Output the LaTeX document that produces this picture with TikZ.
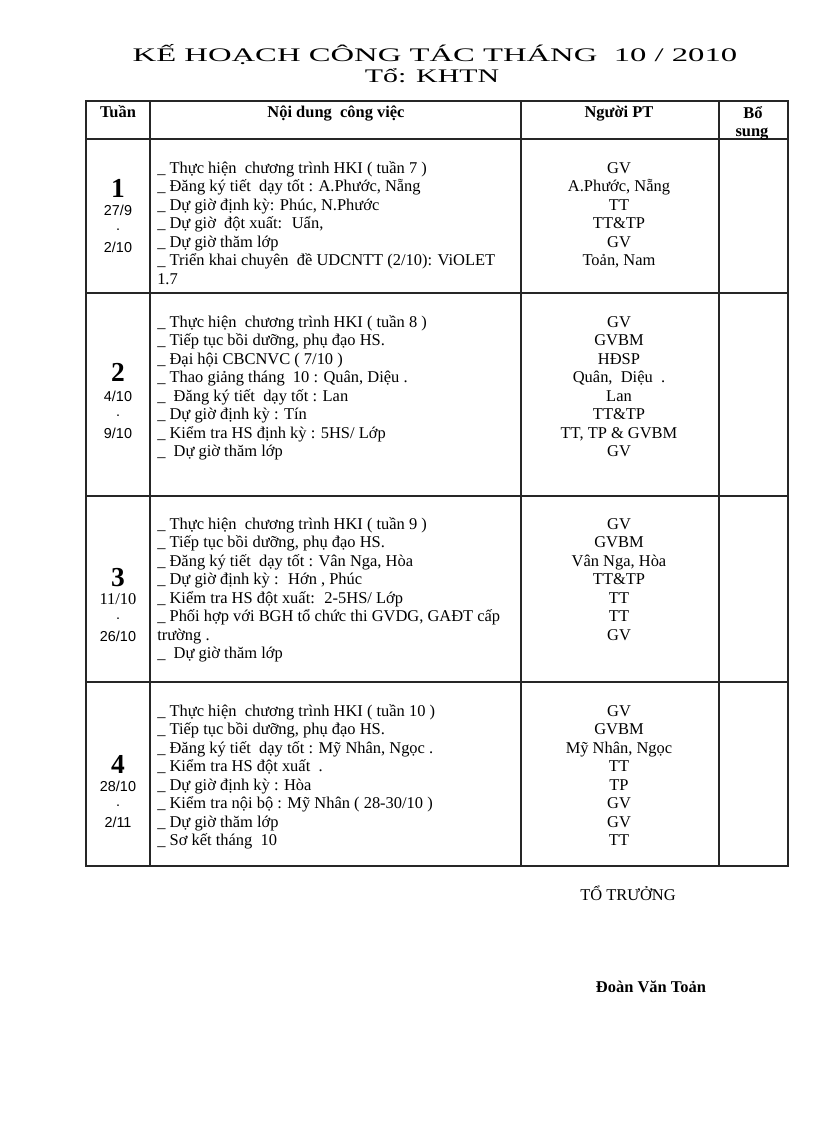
\documentclass[tikz,border=0pt]{standalone}
\usepackage{fontspec}
\usepackage{graphicx}
\setmainfont{Liberation Serif}
\newfontfamily\datefont{Liberation Sans}
\begin{document}
\begin{tikzpicture}[x=0.7295pt,y=-0.7295pt,
  grid/.style={line width=0.9pt, draw=black!85},
  body/.style={anchor=base west, inner sep=0pt, font=\fontsize{12}{13.5}\selectfont},
  who/.style={anchor=base, inner sep=0pt, font=\fontsize{12}{13.5}\selectfont},
  head/.style={anchor=base, inner sep=0pt, font=\fontsize{12}{13.5}\selectfont\bfseries},
  bignum/.style={anchor=base, inner sep=0pt, font=\fontsize{20}{22}\selectfont\bfseries},
  datetxt/.style={anchor=base, inner sep=0pt, font=\fontsize{10.5}{12}\selectfont\datefont},
  titletxt/.style={anchor=base, inner sep=0pt, font=\fontsize{14}{16}\selectfont}]
\useasboundingbox (0,0) rectangle (816,1123);

% title
\node[titletxt] (title) at (435,61) {\resizebox{441pt}{\height}{KẾ HOẠCH CÔNG TÁC THÁNG~ 10 / 2010}};
\node[titletxt] (subtitle) at (432,82) {\resizebox{98pt}{\height}{Tổ: KHTN}};

% table grid
\draw[grid] (86,101) rectangle (788,866);
\foreach \yy in {139,293,496,682} \draw[grid] (86,\yy) -- (788,\yy);
\foreach \xx in {150,521,719} \draw[grid] (\xx,101) -- (\xx,866);

% header
\node[head] (hTuan) at (118,117) {Tuần};
\node[head] (hNoi) at (336,117) {Nội dung~ công việc};
\node[head] (hNguoi) at (619,117) {Người PT};
\node[head] (hBo) at (753,118) {Bổ};
\node[head] (hSung) at (752,136) {sung};

% week numbers and dates
\node[bignum] (n1) at (118,197) {1};
\node[datetxt] (d1a) at (118,215) {27/9};
\node[datetxt] (d1b) at (118,230) {.};
\node[datetxt] (d1c) at (118,252) {2/10};

\node[bignum] (n2) at (118,381) {2};
\node[datetxt] (d2a) at (118,401) {4/10};
\node[datetxt] (d2b) at (118,416) {.};
\node[datetxt] (d2c) at (118,438) {9/10};

\node[bignum] (n3) at (118,586) {3};
\node[datetxt,font=\fontsize{12}{13.5}\selectfont] (d3a) at (118,604) {11/10};
\node[datetxt] (d3b) at (118,619) {.};
\node[datetxt] (d3c) at (118,641) {26/10};

\node[bignum] (n4) at (118,773) {4};
\node[datetxt] (d4a) at (118,791) {28/10};
\node[datetxt] (d4b) at (118,806) {.};
\node[datetxt] (d4c) at (118,827) {2/11};

% row 1
\foreach \txt [count=\i] in {
  {\_ Thực hiện~ chương trình HKI ( tuần 7 )},
  {\_ Đăng ký tiết~ dạy tốt : A.Phước, Nẵng},
  {\_ Dự giờ định kỳ: Phúc, N.Phước},
  {\_ Dự giờ~ đột xuất:~ Uẩn,},
  {\_ Dự giờ thăm lớp},
  {\_ Triển khai chuyên~ đề UDCNTT (2/10): ViOLET},
  {1.7}}
  \node[body] (ra\i) at (157,{173+(\i-1)*18.5}) {\txt};
\foreach \txt [count=\i] in {
  {GV},{A.Phước, Nẵng},{TT},{TT\&TP},{GV},{Toản, Nam}}
  \node[who] (pa\i) at (619,{173+(\i-1)*18.5}) {\txt};

% row 2
\foreach \txt [count=\i] in {
  {\_ Thực hiện~ chương trình HKI ( tuần 8 )},
  {\_ Tiếp tục bồi dưỡng, phụ đạo HS.},
  {\_ Đại hội CBCNVC ( 7/10 )},
  {\_ Thao giảng tháng~ 10 : Quân, Diệu .},
  {\_~ Đăng ký tiết~ dạy tốt : Lan},
  {\_ Dự giờ định kỳ : Tín},
  {\_ Kiểm tra HS định kỳ : 5HS/ Lớp},
  {\_~ Dự giờ thăm lớp}}
  \node[body] (rb\i) at (157,{327+(\i-1)*18.5}) {\txt};
\foreach \txt [count=\i] in {
  {GV},{GVBM},{HĐSP},{Quân,~ Diệu~ .},{Lan},{TT\&TP},{TT, TP \& GVBM},{GV}}
  \node[who] (pb\i) at (619,{327+(\i-1)*18.5}) {\txt};

% row 3
\foreach \txt [count=\i] in {
  {\_ Thực hiện~ chương trình HKI ( tuần 9 )},
  {\_ Tiếp tục bồi dưỡng, phụ đạo HS.},
  {\_ Đăng ký tiết~ dạy tốt : Vân Nga, Hòa},
  {\_ Dự giờ định kỳ :~ Hớn , Phúc},
  {\_ Kiểm tra HS đột xuất:~ 2-5HS/ Lớp},
  {\_ Phối hợp với BGH tổ chức thi GVDG, GAĐT cấp},
  {trường .},
  {\_~ Dự giờ thăm lớp}}
  \node[body] (rc\i) at (157,{529+(\i-1)*18.5}) {\txt};
\foreach \txt [count=\i] in {
  {GV},{GVBM},{Vân Nga, Hòa},{TT\&TP},{TT},{TT},{GV}}
  \node[who] (pc\i) at (619,{529+(\i-1)*18.5}) {\txt};

% row 4
\foreach \txt [count=\i] in {
  {\_ Thực hiện~ chương trình HKI ( tuần 10 )},
  {\_ Tiếp tục bồi dưỡng, phụ đạo HS.},
  {\_ Đăng ký tiết~ dạy tốt : Mỹ Nhân, Ngọc .},
  {\_ Kiểm tra HS đột xuất~ .},
  {\_ Dự giờ định kỳ : Hòa},
  {\_ Kiểm tra nội bộ : Mỹ Nhân ( 28-30/10 )},
  {\_ Dự giờ thăm lớp},
  {\_ Sơ kết tháng~ 10}}
  \node[body] (rd\i) at (157,{716+(\i-1)*18.5}) {\txt};
\foreach \txt [count=\i] in {
  {GV},{GVBM},{Mỹ Nhân, Ngọc},{TT},{TP},{GV},{GV},{TT}}
  \node[who] (pd\i) at (619,{716+(\i-1)*18.5}) {\txt};

% signature
\node[who] (sign) at (628,900) {TỔ TRƯỞNG};
\node[head] (name) at (651,992) {Đoàn Văn Toản};
\end{tikzpicture}
\end{document}
